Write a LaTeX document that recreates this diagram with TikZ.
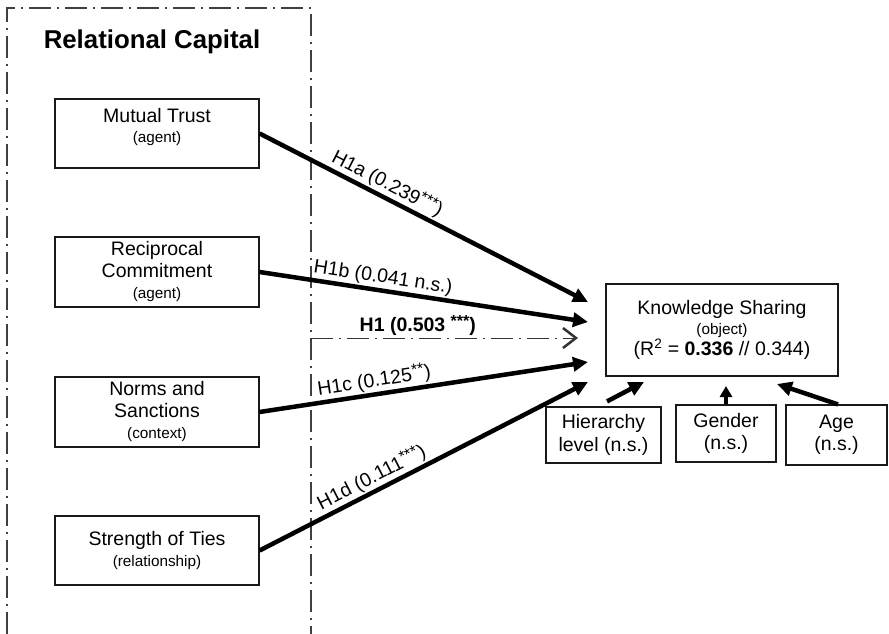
\documentclass[tikz,border=0pt]{standalone}
\usepackage{fontspec}
\setmainfont{Liberation Sans}
\usetikzlibrary{arrows.meta}
\newcommand\mainf{\fontsize{19.5}{21.5}\selectfont}
\newcommand\smf{\fontsize{15.3}{19.5}\selectfont}
\newcommand\stars[1]{\raisebox{5pt}{\fontsize{16}{16}\selectfont #1}}
\begin{document}
\begin{tikzpicture}[x=1pt,y=-1pt,
  box/.style={draw=black!90, line width=1.2pt, align=center, inner sep=0pt, font=\mainf},
  frameline/.style={draw=black!75, line width=1.1pt, dash pattern=on 22pt off 6pt on 2pt off 6pt},
  thickarr/.style={line width=4.5pt, -{Triangle[length=15pt,width=14pt]}},
  lbl/.style={sloped, above, font=\mainf, inner sep=1.5pt}
]
\useasboundingbox (0,0) rectangle (889,634);
% frame of relational capital
\draw[frameline] (7,634) -- (7,8) -- (311,8) -- (311,634);
\node[font=\fontsize{25.8}{28}\selectfont\bfseries] (title) at (152,42) {Relational Capital};

% left boxes
\node[box, minimum width=204pt, minimum height=69pt] (mt) at (157,133.5)
  {\raisebox{0pt}[0pt][0pt]{\begin{tabular}{@{}c@{}}Mutual Trust\\[-2pt]{\smf (agent)}\end{tabular}}};
\node[box, minimum width=204pt, minimum height=70pt] (rc) at (157,272)
  {Reciprocal\\Commitment\\{\smf (agent)}};
\node[box, minimum width=204pt, minimum height=70pt] (ns) at (157,412)
  {Norms and\\Sanctions\\{\smf (context)}};
\node[box, minimum width=204pt, minimum height=69pt] (st) at (157,550.5)
  {Strength of Ties\\{\smf (relationship)}};

% right boxes
\node[box, minimum width=232pt, minimum height=92pt] (ks) at (722,330)
  {Knowledge Sharing\\[-1.5pt]{\smf (object)}\\(R\textsuperscript{2} = \textbf{0.336} // 0.344)};
\node[box, minimum width=115pt, minimum height=56pt, font=\fontsize{19.5}{23}\selectfont] (hl) at (603.5,435)
  {Hierarchy\\level (n.s.)};
\node[box, minimum width=100pt, minimum height=57pt, font=\fontsize{19.5}{22}\selectfont] (gd) at (726,433.5)
  {Gender\\(n.s.)};
\node[box, minimum width=101pt, minimum height=60pt, font=\fontsize{19.5}{22}\selectfont] (ag) at (836.5,435)
  {Age\\(n.s.)};

% arrow tip coordinates
\coordinate (t1) at (588,302);
\coordinate (t2) at (588,322);
\coordinate (th1) at (578,338);
\coordinate (t3) at (588,362);
\coordinate (t4) at (588,382);
\coordinate (h1s) at (311,338);
\coordinate (thl) at (644,382);
\coordinate (tgd) at (726,386);
\coordinate (tag) at (777,384);

% hypotheses
\draw[thickarr] (mt.east) -- node[lbl, pos=0.37] {H1a (0.239\stars{***})} (t1);
\draw[thickarr] (rc.east) -- node[lbl, pos=0.37] {H1b (0.041 n.s.)} (t2);
\draw[thickarr] (ns.east) -- node[lbl, pos=0.355] {H1c (0.125\stars{**})} (t3);
\draw[thickarr] (st.east) -- node[lbl, pos=0.36] {H1d (0.111\stars{***})} (t4);
\draw[draw=black!80, line width=1pt, dash pattern=on 22pt off 6pt on 2pt off 6pt,
  -{Straight Barb[length=13pt,width=20pt,line width=2.5pt]}]
  (h1s) -- node[above, pos=0.40, font=\mainf\bfseries, inner sep=1.5pt] {H1 (0.503 \stars{***})} (th1);

% controls
\draw[thickarr] ([shift={(3.5,-5)}]hl.north) -- (thl);
\draw[line width=4.5pt, -{Triangle[length=11pt,width=12pt]}] (gd.north) -- (tgd);
\draw[thickarr] ([xshift=1.5pt]ag.north) -- (tag);
\end{tikzpicture}
\end{document}
